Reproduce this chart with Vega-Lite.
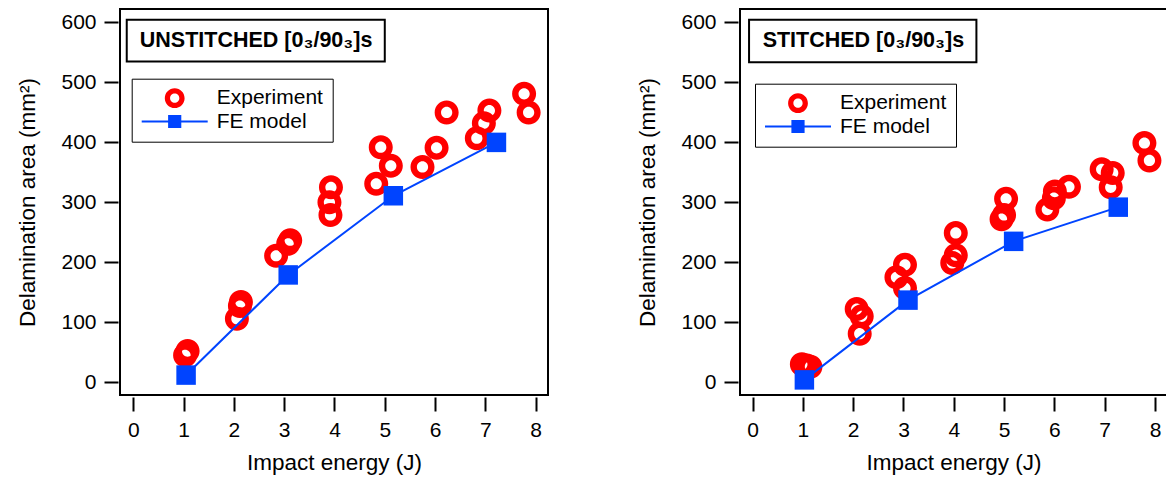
{
  "$schema": "https://vega.github.io/schema/vega-lite/v6.json",
  "padding": {"left": 15, "top": 8, "right": 0, "bottom": 0},
  "background": "white",
  "bounds": "flush",
  "spacing": 192,
  "config": {
    "font": "Liberation Sans",
    "view": {"stroke": "black", "strokeWidth": 2},
    "axis": {
      "domain": false, "grid": false,
      "tickColor": "black", "tickWidth": 2, "tickSize": 14, "offset": 2,
      "labelFont": "Liberation Sans", "labelFontSize": 21, "labelColor": "black", "labelPadding": 8,
      "labelFlush": false, "labelOverlap": false,
      "titleFont": "Liberation Sans", "titleFontSize": 22.5, "titleFontWeight": "normal", "titleColor": "black"
    },
    "legend": {
      "orient": "none", "title": null,
      "labelFont": "Liberation Sans", "labelFontSize": 21, "labelColor": "black", "labelOffset": 8,
      "padding": 9, "fillColor": "white", "strokeColor": "black",
      "symbolSize": 4356, "clipHeight": 21, "rowPadding": 1.3, "symbolOpacity": 1
    }
  },
  "datasets": {
    "unstitched_exp": [
      {"E": 1.03, "A": 45, "series": "Experiment"}, {"E": 1.08, "A": 52, "series": "Experiment"},
      {"E": 2.06, "A": 106, "series": "Experiment"}, {"E": 2.12, "A": 127, "series": "Experiment"}, {"E": 2.14, "A": 134, "series": "Experiment"},
      {"E": 2.84, "A": 211, "series": "Experiment"}, {"E": 3.08, "A": 231, "series": "Experiment"}, {"E": 3.12, "A": 237, "series": "Experiment"},
      {"E": 3.92, "A": 279, "series": "Experiment"}, {"E": 3.9, "A": 300, "series": "Experiment"}, {"E": 3.93, "A": 325, "series": "Experiment"},
      {"E": 4.83, "A": 331, "series": "Experiment"}, {"E": 4.92, "A": 392, "series": "Experiment"}, {"E": 5.12, "A": 361, "series": "Experiment"},
      {"E": 5.75, "A": 359, "series": "Experiment"}, {"E": 6.03, "A": 391, "series": "Experiment"}, {"E": 6.23, "A": 450, "series": "Experiment"},
      {"E": 6.83, "A": 407, "series": "Experiment"}, {"E": 6.97, "A": 432, "series": "Experiment"}, {"E": 7.08, "A": 453, "series": "Experiment"},
      {"E": 7.77, "A": 481, "series": "Experiment"}, {"E": 7.86, "A": 450, "series": "Experiment"}
    ],
    "unstitched_fe": [
      {"E": 1.05, "A": 12, "series": "FE model"}, {"E": 3.08, "A": 179, "series": "FE model"},
      {"E": 5.17, "A": 311, "series": "FE model"}, {"E": 7.22, "A": 400, "series": "FE model"}
    ],
    "stitched_exp": [
      {"E": 0.98, "A": 30, "series": "Experiment"}, {"E": 1.08, "A": 28, "series": "Experiment"}, {"E": 1.15, "A": 26, "series": "Experiment"},
      {"E": 2.07, "A": 122, "series": "Experiment"}, {"E": 2.17, "A": 110, "series": "Experiment"}, {"E": 2.13, "A": 81, "series": "Experiment"},
      {"E": 2.86, "A": 175, "series": "Experiment"}, {"E": 3.03, "A": 196, "series": "Experiment"}, {"E": 3.03, "A": 157, "series": "Experiment"},
      {"E": 4.04, "A": 249, "series": "Experiment"}, {"E": 4.04, "A": 212, "series": "Experiment"}, {"E": 3.97, "A": 199, "series": "Experiment"},
      {"E": 5.04, "A": 306, "series": "Experiment"}, {"E": 5.0, "A": 279, "series": "Experiment"}, {"E": 4.95, "A": 272, "series": "Experiment"},
      {"E": 5.86, "A": 288, "series": "Experiment"}, {"E": 5.99, "A": 307, "series": "Experiment"}, {"E": 6.01, "A": 318, "series": "Experiment"}, {"E": 6.29, "A": 326, "series": "Experiment"},
      {"E": 6.94, "A": 355, "series": "Experiment"}, {"E": 7.16, "A": 349, "series": "Experiment"}, {"E": 7.12, "A": 325, "series": "Experiment"},
      {"E": 7.79, "A": 399, "series": "Experiment"}, {"E": 7.89, "A": 370, "series": "Experiment"}
    ],
    "stitched_fe": [
      {"E": 1.03, "A": 4, "series": "FE model"}, {"E": 3.09, "A": 137, "series": "FE model"},
      {"E": 5.19, "A": 235, "series": "FE model"}, {"E": 7.27, "A": 292, "series": "FE model"}
    ]
  },
  "resolve": {
    "scale": {"shape": "independent", "color": "independent", "x": "independent", "y": "independent"},
    "legend": {"shape": "independent", "color": "independent"}
  },
  "hconcat": [
    {
      "width": 428, "height": 386,
      "layer": [
        {
          "data": {"name": "unstitched_exp"},
          "mark": {"type": "point", "filled": true, "strokeWidth": 0, "size": 6400, "opacity": 1},
          "encoding": {
            "x": {"field": "E", "type": "quantitative", "scale": {"domain": [-0.264, 8.245], "nice": false, "zero": false},
                  "axis": {"values": [0,1,2,3,4,5,6,7,8], "title": "Impact energy (J)", "titlePadding": 11}},
            "y": {"field": "A", "type": "quantitative", "scale": {"domain": [-21.2, 622.4], "nice": false, "zero": false},
                  "axis": {"values": [0,100,200,300,400,500,600], "title": "Delamination area (mm²)", "titlePadding": 21}},
            "color": {"field": "series", "type": "nominal",
              "scale": {"domain": ["Experiment", "FE model"], "range": ["#ff0000", "#0044ff"]},
              "legend": {"legendX": 11.7, "legendY": 69.7, "encode": {"legend": {"strokeWidth": {"value": 2}}}}},
            "shape": {"field": "series", "type": "nominal",
              "scale": {"domain": ["Experiment", "FE model"], "range": [
                "M0.3,0A0.3,0.3 0 1,1 -0.3,0A0.3,0.3 0 1,1 0.3,0ZM0.14,0A0.14,0.14 0 1,0 -0.14,0A0.14,0.14 0 1,0 0.14,0Z",
                "M-1,-0.03H1V0.03H-1ZM-0.2,-0.2H0.2V0.2H-0.2Z"]},
              "legend": {"legendX": 11.7, "legendY": 69.7, "encode": {"legend": {"strokeWidth": {"value": 2}}}}}
          }
        },
        {
          "data": {"name": "unstitched_fe"},
          "mark": {"type": "line", "color": "#0044ff", "strokeWidth": 2},
          "encoding": {"x": {"field": "E", "type": "quantitative"}, "y": {"field": "A", "type": "quantitative"}}
        },
        {
          "data": {"name": "unstitched_fe"},
          "mark": {"type": "point", "shape": "square", "filled": true, "color": "#0044ff", "size": 380, "opacity": 1},
          "encoding": {"x": {"field": "E", "type": "quantitative"}, "y": {"field": "A", "type": "quantitative"}}
        },
        {
          "data": {"values": [{"label": "UNSTITCHED [0₃/90₃]s"}]},
          "mark": {"type": "rect", "fill": "white", "stroke": "black", "strokeWidth": 2},
          "encoding": {
            "x": {"datum": -0.13, "type": "quantitative"}, "x2": {"datum": 5.0},
            "y": {"datum": 604.5, "type": "quantitative"}, "y2": {"datum": 535}
          }
        },
        {
          "data": {"values": [{"label": "UNSTITCHED [0₃/90₃]s"}]},
          "mark": {"type": "text", "font": "Liberation Sans", "fontWeight": "bold", "fontSize": 21.5, "align": "left", "baseline": "middle", "color": "black"},
          "encoding": {
            "text": {"field": "label"},
            "x": {"datum": 0.13, "type": "quantitative"},
            "y": {"datum": 569.5, "type": "quantitative"}
          }
        }
      ]
    },
    {
      "width": 427, "height": 386,
      "layer": [
        {
          "data": {"name": "stitched_exp"},
          "mark": {"type": "point", "filled": true, "strokeWidth": 0, "size": 6400, "opacity": 1},
          "encoding": {
            "x": {"field": "E", "type": "quantitative", "scale": {"domain": [-0.25, 8.239], "nice": false, "zero": false},
                  "axis": {"values": [0,1,2,3,4,5,6,7,8], "title": "Impact energy (J)", "titlePadding": 11}},
            "y": {"field": "A", "type": "quantitative", "scale": {"domain": [-21.2, 622.4], "nice": false, "zero": false},
                  "axis": {"values": [0,100,200,300,400,500,600], "title": "Delamination area (mm²)", "titlePadding": 21}},
            "color": {"field": "series", "type": "nominal",
              "scale": {"domain": ["Experiment", "FE model"], "range": ["#ff0000", "#0044ff"]},
              "legend": {"legendX": 15, "legendY": 74.7, "encode": {"legend": {"strokeWidth": {"value": 2}}}}},
            "shape": {"field": "series", "type": "nominal",
              "scale": {"domain": ["Experiment", "FE model"], "range": [
                "M0.3,0A0.3,0.3 0 1,1 -0.3,0A0.3,0.3 0 1,1 0.3,0ZM0.14,0A0.14,0.14 0 1,0 -0.14,0A0.14,0.14 0 1,0 0.14,0Z",
                "M-1,-0.03H1V0.03H-1ZM-0.2,-0.2H0.2V0.2H-0.2Z"]},
              "legend": {"legendX": 15, "legendY": 74.7, "encode": {"legend": {"strokeWidth": {"value": 2}}}}}
          }
        },
        {
          "data": {"name": "stitched_fe"},
          "mark": {"type": "line", "color": "#0044ff", "strokeWidth": 2},
          "encoding": {"x": {"field": "E", "type": "quantitative"}, "y": {"field": "A", "type": "quantitative"}}
        },
        {
          "data": {"name": "stitched_fe"},
          "mark": {"type": "point", "shape": "square", "filled": true, "color": "#0044ff", "size": 380, "opacity": 1},
          "encoding": {"x": {"field": "E", "type": "quantitative"}, "y": {"field": "A", "type": "quantitative"}}
        },
        {
          "data": {"values": [{"label": "STITCHED [0₃/90₃]s"}]},
          "mark": {"type": "rect", "fill": "white", "stroke": "black", "strokeWidth": 2},
          "encoding": {
            "x": {"datum": -0.07, "type": "quantitative"}, "x2": {"datum": 4.45},
            "y": {"datum": 604.5, "type": "quantitative"}, "y2": {"datum": 533.6}
          }
        },
        {
          "data": {"values": [{"label": "STITCHED [0₃/90₃]s"}]},
          "mark": {"type": "text", "font": "Liberation Sans", "fontWeight": "bold", "fontSize": 21.5, "align": "left", "baseline": "middle", "color": "black"},
          "encoding": {
            "text": {"field": "label"},
            "x": {"datum": 0.2, "type": "quantitative"},
            "y": {"datum": 569.5, "type": "quantitative"}
          }
        }
      ]
    }
  ]
}
